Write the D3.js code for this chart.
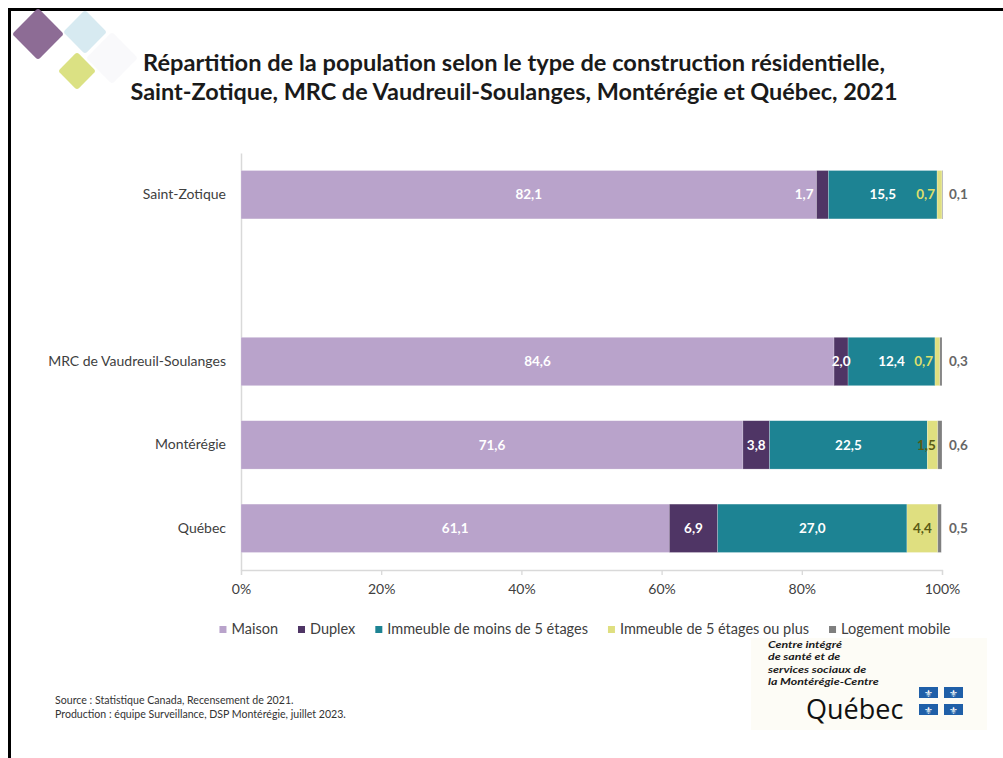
<!DOCTYPE html>
<html><head><meta charset="utf-8">
<script src="https://cdn.jsdelivr.net/npm/d3@7"></script>
<style>
html,body{margin:0;padding:0;background:#fff;}
svg{display:block;font-family:Lato,"Open Sans",sans-serif;}
</style></head>
<body>
<svg id="chart" width="1003" height="758"></svg>
<script>
// ---- data ----
const categories = ["Saint-Zotique", "MRC de Vaudreuil-Soulanges", "Montérégie", "Québec"];
const seriesNames = ["Maison", "Duplex", "Immeuble de moins de 5 étages", "Immeuble de 5 étages ou plus", "Logement mobile"];
const maison   = [82.1, 84.6, 71.6, 61.1];
const duplex   = [1.7, 2.0, 3.8, 6.9];
const moins5   = [15.5, 12.4, 22.5, 27.0];
const plus5    = [0.7, 0.7, 1.5, 4.4];
const mobile   = [0.1, 0.3, 0.6, 0.5];
const xTicks   = [0, 20, 40, 60, 80, 100];
const titleLines = ["Répartition de la population selon le type de construction résidentielle,",
                    "Saint-Zotique, MRC de Vaudreuil-Soulanges, Montérégie et Québec, 2021"];
const sourceLines = ["Source : Statistique Canada, Recensement de 2021.",
                     "Production : équipe Surveillance, DSP Montérégie, juillet 2023."];
const logoLines = ["Centre intégré", "de santé et de", "services sociaux de", "la Montérégie-Centre"];

// ---- styles ----
const colors = ["#b9a3cb", "#4f3565", "#1d8393", "#dfdf80", "#7f7f7f"];
const labelColors = ["#ffffff", "#ffffff", "#ffffff", "#5a5a14", "#666666"];
const GAP = "__gap";

const svg = d3.select("#chart");

// frame lines (slide border)
svg.append("rect").attr("x", 8).attr("y", 8).attr("width", 995).attr("height", 3).attr("fill", "#000");
svg.append("rect").attr("x", 8).attr("y", 8).attr("width", 3).attr("height", 750).attr("fill", "#000");

// decorative diamonds
const deco = svg.append("g");
function diamond(cx, cy, half, fill, op) {
  const s = half * Math.SQRT2;
  deco.append("rect").attr("x", -s/2).attr("y", -s/2).attr("width", s).attr("height", s)
    .attr("rx", 3).attr("fill", fill).attr("opacity", op)
    .attr("transform", `translate(${cx},${cy}) rotate(45)`);
}
diamond(112, 58, 26, "#f8f8fa", 0.8);
diamond(85, 32, 22, "#d3e8f0", 0.9);
diamond(38, 34, 26, "#87648f", 0.95);
diamond(77, 71, 19, "#dbe183", 1);

// title
const title = svg.append("g");
const titleWidths = [742, 767];
titleLines.forEach((t, i) => {
  title.append("text").attr("x", 514).attr("y", 71 + i * 29)
    .attr("text-anchor", "middle").attr("font-size", 22.5).attr("font-weight", 700)
    .attr("textLength", titleWidths[i]).attr("lengthAdjust", "spacingAndGlyphs")
    .attr("fill", "#1a1a1a").text(t);
});

// scales
const x = d3.scaleLinear().domain([0, 100]).range([241, 942]);
const yDomain = [categories[0], GAP].concat(categories.slice(1));
const y = d3.scaleBand().domain(yDomain).range([153, 570]).paddingInner(0.42).paddingOuter(0.21);

// x axis
const xAxis = d3.axisBottom(x).tickValues(xTicks).tickFormat(d => d + "%").tickSize(5).tickPadding(9);
const gx = svg.append("g").attr("transform", "translate(0,570)").call(xAxis);
gx.select(".domain").attr("stroke", "#d9d9d9").attr("stroke-width", 1.3);
gx.selectAll(".tick line").attr("stroke", "#d9d9d9").attr("stroke-width", 1.3);
gx.selectAll(".tick text").attr("font-size", 14).attr("fill", "#404040").attr("font-family", "Lato");

// y axis
const yAxis = d3.axisLeft(y).tickValues(categories).tickSize(0).tickPadding(15);
const gy = svg.append("g").attr("transform", "translate(241,0)").call(yAxis);
gy.select(".domain").attr("stroke", "#d9d9d9").attr("stroke-width", 1.5);
gy.selectAll(".tick text").attr("font-size", 14).attr("fill", "#404040").attr("font-family", "Lato");

// stacked data
const seriesArrays = [maison, duplex, moins5, plus5, mobile];
const rows = categories.map((c, i) => {
  const r = { cat: c };
  seriesNames.forEach((s, j) => r[s] = seriesArrays[j][i]);
  return r;
});
const stack = d3.stack().keys(seriesNames)(rows);

const bars = svg.append("g");
stack.forEach((layer, j) => {
  bars.append("g").selectAll("rect").data(layer).join("rect")
    .attr("x", d => x(d[0]))
    .attr("y", d => y(d.data.cat))
    .attr("width", d => Math.max(0, x(d[1]) - x(d[0])))
    .attr("height", y.bandwidth())
    .attr("fill", colors[j])
    .attr("stroke", "#ffffff").attr("stroke-opacity", 0.35).attr("stroke-width", 0.6);
});

// label placement overrides (key: catIndex-seriesIndex)
const placement = {
  "0-1": { ref: "start", anchor: "end", dx: -3 },
  "0-3": { ref: "start", anchor: "end", dx: -2, color: "#dcdf6c" },
  "1-3": { ref: "start", anchor: "end", dx: -2, color: "#dcdf6c" },
  "2-3": { ref: "end", anchor: "end", dx: -2 }
};
const fmt = v => d3.format(".1f")(v).replace(".", ",");
const labels = svg.append("g").attr("font-size", 13.5).attr("font-weight", 700);
stack.forEach((layer, j) => {
  layer.forEach((d, i) => {
    const key = i + "-" + j;
    const p = placement[key];
    let lx, anchor = "middle", col = labelColors[j];
    if (j === 4) {
      lx = x(100) + 7; anchor = "start";
    } else if (p) {
      lx = (p.ref === "start" ? x(d[0]) : x(d[1])) + p.dx;
      anchor = p.anchor;
      if (p.color) col = p.color;
    } else {
      lx = (x(d[0]) + x(d[1])) / 2;
    }
    labels.append("text").attr("x", lx).attr("y", y(d.data.cat) + y.bandwidth() / 2)
      .attr("dy", "0.35em").attr("text-anchor", anchor).attr("fill", col).text(fmt(d[1] - d[0]));
  });
});

// logo box
const logo = svg.append("g");
logo.append("rect").attr("x", 751).attr("y", 638).attr("width", 236).attr("height", 92).attr("fill", "#fdfcf6");

// legend
const legend = svg.append("g").attr("font-size", 14.5).attr("fill", "#404040");
const itemGap = 20, sq = 7, sqGap = 5;
const tmp = legend.append("text").attr("visibility", "hidden");
const widths = seriesNames.map(s => { tmp.text(s); return tmp.node().getComputedTextLength(); });
tmp.remove();
const total = d3.sum(widths) + seriesNames.length * (sq + sqGap) + (seriesNames.length - 1) * itemGap;
let lxp = 585 - total / 2;
seriesNames.forEach((s, j) => {
  legend.append("rect").attr("x", lxp).attr("y", 626).attr("width", sq).attr("height", sq).attr("fill", colors[j]);
  legend.append("text").attr("x", lxp + sq + sqGap).attr("y", 634).attr("fill", "#404040").text(s);
  lxp += sq + sqGap + widths[j] + itemGap;
});

const logoTextG = logo.append("g").attr("transform", "translate(768,0) scale(1.2,1)");
logoLines.forEach((t, i) => {
  logoTextG.append("text").attr("x", 0).attr("y", 648 + i * 12.5).attr("font-size", 10.3)
    .attr("font-weight", 700).attr("font-style", "italic").attr("fill", "#1a1a1a")
    .attr("font-family", "Lato").text(t);
});
logo.append("text").attr("x", 806).attr("y", 719).attr("font-size", 27)
  .attr("font-family", "'Open Sans',sans-serif").attr("fill", "#111").text("Québec");
[[919, 687], [944, 687], [919, 704], [944, 704]].forEach(([fx, fy]) => {
  logo.append("rect").attr("x", fx).attr("y", fy).attr("width", 19).attr("height", 11).attr("fill", "#1f5fa8");
  logo.append("text").attr("x", fx + 9.5).attr("y", fy + 9.5).attr("text-anchor", "middle")
    .attr("font-size", 10).attr("fill", "#fff").attr("font-family", "DejaVu Sans").text("⚜");
});

// source
sourceLines.forEach((t, i) => {
  svg.append("text").attr("x", 55).attr("y", 704 + i * 14).attr("font-size", 10.6)
    .attr("fill", "#333").text(t);
});
</script>
</body></html>
